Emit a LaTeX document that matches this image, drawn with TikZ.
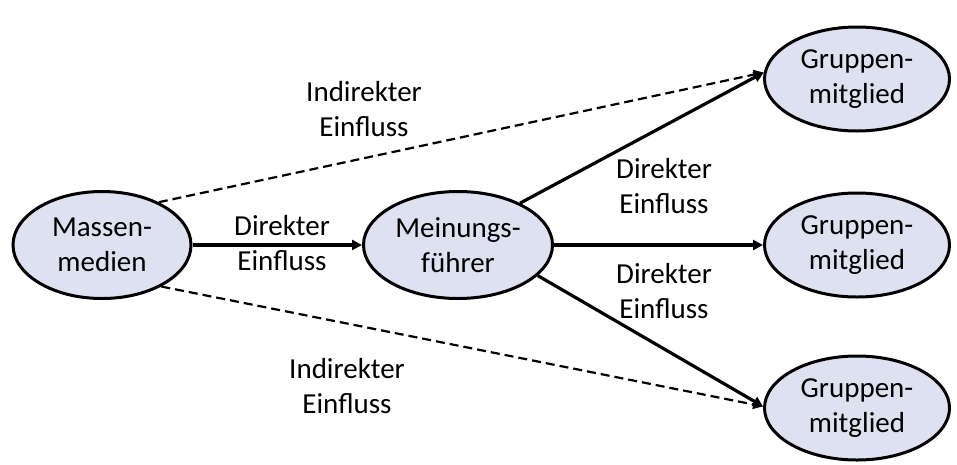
\documentclass[tikz,border=0pt]{standalone}
\usepackage{fontspec}
\setmainfont{Carlito}
\usetikzlibrary{shapes.geometric,arrows.meta}
\definecolor{nodefill}{RGB}{222,226,240}
\begin{document}
\begin{tikzpicture}[x=1pt,y=-1pt,
  bubble/.style={ellipse,draw=black,line width=3pt,fill=nodefill,inner sep=0pt,align=center,font=\fontsize{29}{35}\selectfont},
  lbl/.style={align=center,inner sep=0pt,font=\fontsize{29}{35}\selectfont},
  direct/.style={line width=3.2pt,-{Triangle[length=10pt,width=10pt]}},
  indirect/.style={line width=2.2pt,dash pattern=on 9pt off 5pt,-{Triangle[length=10pt,width=9pt]}}]
\useasboundingbox (0,0) rectangle (957,464);
\node[bubble,minimum width=178pt,minimum height=107pt] (A) at (102,245) {Massen-\\medien};
\node[bubble,minimum width=189pt,minimum height=107pt] (M) at (458,245) {Meinungs-\\führer};
\node[bubble,minimum width=185pt,minimum height=104pt] (G1) at (857,79) {Gruppen-\\mitglied};
\node[bubble,minimum width=185pt,minimum height=104pt] (G2) at (857,245) {Gruppen-\\mitglied};
\node[bubble,minimum width=185pt,minimum height=104pt] (G3) at (857,408) {Gruppen-\\mitglied};
\draw[indirect] (A.37) -- (G1.176);
\draw[indirect] (A.-35) -- (G3.179);
\draw[direct] (A.east) -- (M.west);
\draw[direct] (M.34) -- (G1.176);
\draw[direct] (M.east) -- (G2.west);
\draw[direct] (M.-21) -- (G3.179);
\node[lbl] (l1) at (364,109) {Indirekter\\Einfluss};
\node[lbl] (l2) at (347,386) {Indirekter\\Einfluss};
\node[lbl] (l3) at (282,243) {Direkter\\Einfluss};
\node[lbl] (l4) at (664,186) {Direkter\\Einfluss};
\node[lbl] (l5) at (664,291) {Direkter\\Einfluss};
\end{tikzpicture}
\end{document}
